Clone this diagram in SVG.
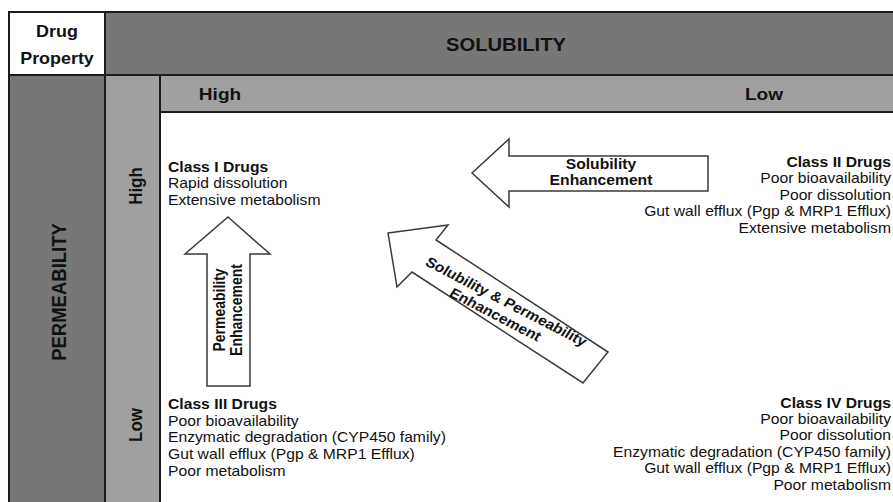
<svg xmlns="http://www.w3.org/2000/svg" width="893" height="502" viewBox="0 0 893 502">
<style>
text{font-family:"Liberation Sans",Arial,sans-serif;fill:#111}
.b{font-weight:bold}
.t{font-size:14px}
.hd{font-size:17px;font-weight:bold}
.grid{stroke:#1c1c1c;stroke-width:2;fill:none}
.arrow{fill:#fff;stroke:#3a3a3a;stroke-width:1.5;stroke-linejoin:miter}
.mid{text-anchor:middle}
.end{text-anchor:end}
</style>
<rect width="893" height="502" fill="#fff"/>
<g id="table">
<rect x="9" y="12" width="96" height="63" fill="#fff"/>
<rect x="105" y="12" width="800" height="63" fill="#777"/>
<rect x="9" y="75" width="96" height="440" fill="#777"/>
<rect x="105" y="75" width="55" height="440" fill="#a0a0a0"/>
<rect x="160" y="75" width="740" height="37" fill="#a0a0a0"/>
<path class="grid" d="M9 515V12H900M105 12V515M9 75H900M160 75V515M160 112H900"/>
</g>
<g id="hdr-drug">
<g transform="translate(57,37) scale(1.12,1)"><text class="b mid" font-size="16">Drug</text></g>
<g transform="translate(57,64) scale(1.12,1)"><text class="b mid" font-size="16">Property</text></g>
</g>
<g id="hdr-solubility" transform="translate(506,50.5) scale(1.12,1)"><text class="b mid" font-size="18">SOLUBILITY</text></g>
<g id="hdr-permeability" transform="translate(66,292) scale(1.12,1) rotate(-90)"><text class="b mid" font-size="18.5">PERMEABILITY</text></g>
<g id="sol-high" transform="translate(220,100) scale(1.12,1)"><text class="hd mid">High</text></g>
<g id="sol-low" transform="translate(764,100) scale(1.12,1)"><text class="hd mid">Low</text></g>
<g id="perm-high" transform="translate(141.5,186) scale(1.12,1) rotate(-90)"><text class="hd mid">High</text></g>
<g id="perm-low" transform="translate(141.5,425) scale(1.12,1) rotate(-90)"><text class="hd mid">Low</text></g>
<g id="class1" transform="translate(168,171.5) scale(1.12,1)">
<text class="t b" y="0">Class I Drugs</text>
<text class="t" y="16.7">Rapid dissolution</text>
<text class="t" y="33.4">Extensive metabolism</text>
</g>
<g id="class2" transform="translate(891,167) scale(1.12,1)">
<text class="t b end" y="0">Class II Drugs</text>
<text class="t end" y="16.5">Poor bioavailability</text>
<text class="t end" y="33">Poor dissolution</text>
<text class="t end" y="49.5">Gut wall efflux (Pgp &amp; MRP1 Efflux)</text>
<text class="t end" y="66">Extensive metabolism</text>
</g>
<g id="class3" transform="translate(168,409) scale(1.12,1)">
<text class="t b" y="0">Class III Drugs</text>
<text class="t" y="16.7">Poor bioavailability</text>
<text class="t" y="33.4">Enzymatic degradation (CYP450 family)</text>
<text class="t" y="50.1">Gut wall efflux (Pgp &amp; MRP1 Efflux)</text>
<text class="t" y="66.8">Poor metabolism</text>
</g>
<g id="class4" transform="translate(891,407.5) scale(1.12,1)">
<text class="t b end" y="0">Class IV Drugs</text>
<text class="t end" y="16.5">Poor bioavailability</text>
<text class="t end" y="33">Poor dissolution</text>
<text class="t end" y="49.5">Enzymatic degradation (CYP450 family)</text>
<text class="t end" y="66">Gut wall efflux (Pgp &amp; MRP1 Efflux)</text>
<text class="t end" y="82.5">Poor metabolism</text>
</g>
<g id="connectors">
<g id="arrow-solubility">
<polygon class="arrow" points="472,173 509,139 509,156 708,156 708,191 509,191 509,207"/>
<g transform="translate(601,169) scale(1.12,1)"><text class="t b mid">Solubility</text></g>
<g transform="translate(601,185) scale(1.12,1)"><text class="t b mid">Enhancement</text></g>
</g>
<g id="arrow-permeability">
<polygon class="arrow" points="228,217 270,254 250,254 250,386 207,386 207,254 185,254"/>
<g transform="translate(225,310) scale(1.12,1) rotate(-90)"><text class="t b mid">Permeability</text></g>
<g transform="translate(242,310) scale(1.12,1) rotate(-90)"><text class="t b mid">Enhancement</text></g>
</g>
<g id="arrow-both">
<polygon class="arrow" points="388,233 448,225 436,240 608,352 583,383 412,272 397,287"/>
<g transform="translate(510,312) scale(1.12,1) rotate(30.1)">
<text class="t b mid" x="-8" y="-2.5">Solubility &amp; Permeability</text>
<text class="t b mid" x="-10" y="13.5">Enhancement</text>
</g>
</g>
</g>
</svg>
